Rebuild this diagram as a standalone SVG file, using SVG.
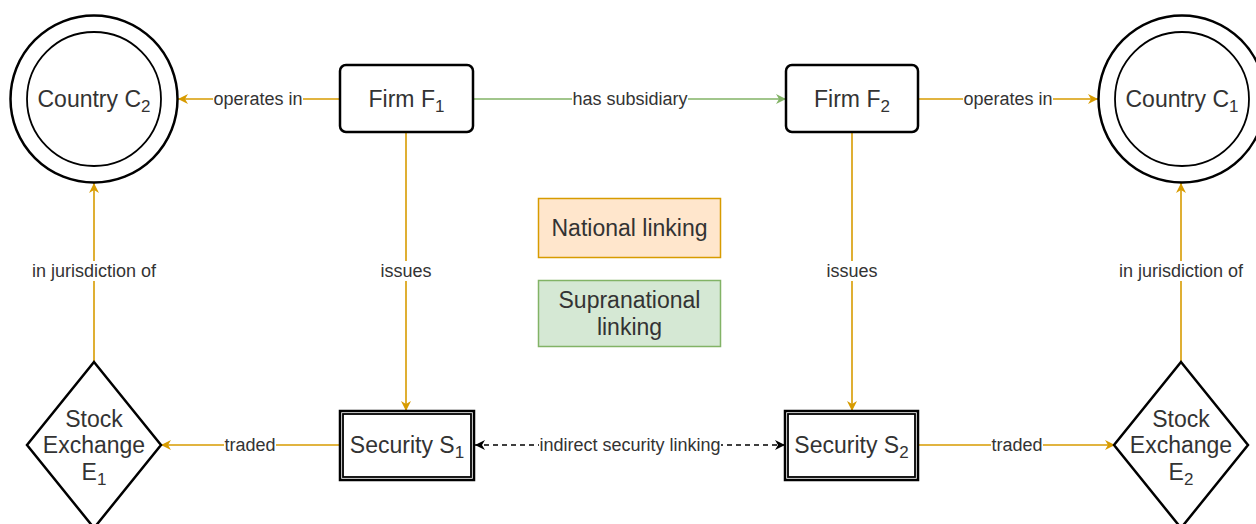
<svg xmlns="http://www.w3.org/2000/svg" width="1256" height="524" viewBox="0 0 1256 524">
  <defs>
    <style>
      .node { fill: #ffffff; stroke: #000000; stroke-width: 2.5; }
      .inner { fill: none; stroke: #000000; stroke-width: 1.8; }
      .ntext { font-family: "Liberation Sans", Arial, sans-serif; font-size: 23px; fill: #333333; text-anchor: middle; }
      .ltext { font-family: "Liberation Sans", Arial, sans-serif; font-size: 18px; fill: #333333; text-anchor: middle; }
      .sub { font-size: 17px; }
      .orange { fill: none; stroke: #d79b00; stroke-width: 1.6; }
      .green { fill: none; stroke: #82b366; stroke-width: 1.6; }
      .dash { fill: none; stroke: #000000; stroke-width: 1.6; stroke-dasharray: 5 4; }
      .lbg { fill: #ffffff; }
    </style>
    <marker id="arrO" viewBox="0 0 12 12" refX="11" refY="6" markerWidth="12" markerHeight="12" markerUnits="userSpaceOnUse" orient="auto-start-reverse">
      <path d="M1,1 L11,6 L1,11 L4,6 Z" fill="#d79b00"/>
    </marker>
    <marker id="arrG" viewBox="0 0 12 12" refX="11" refY="6" markerWidth="12" markerHeight="12" markerUnits="userSpaceOnUse" orient="auto-start-reverse">
      <path d="M1,1 L11,6 L1,11 L4,6 Z" fill="#82b366"/>
    </marker>
    <marker id="arrK" viewBox="0 0 12 12" refX="11" refY="6" markerWidth="12" markerHeight="12" markerUnits="userSpaceOnUse" orient="auto-start-reverse">
      <path d="M1,1 L11,6 L1,11 L4,6 Z" fill="#000000"/>
    </marker>
  </defs>

  <rect x="0" y="0" width="1256" height="524" fill="#ffffff"/>

  <!-- connectors -->
  <g id="connectors">
    <line class="orange" x1="340" y1="99" x2="178" y2="99" marker-end="url(#arrO)"/>
    <line class="green" x1="473" y1="99" x2="786" y2="99" marker-end="url(#arrG)"/>
    <line class="orange" x1="918" y1="99" x2="1098" y2="99" marker-end="url(#arrO)"/>
    <line class="orange" x1="406" y1="132" x2="406" y2="411" marker-end="url(#arrO)"/>
    <line class="orange" x1="852" y1="132" x2="852" y2="411" marker-end="url(#arrO)"/>
    <line class="orange" x1="94" y1="362" x2="94" y2="183" marker-end="url(#arrO)"/>
    <line class="orange" x1="1181" y1="362" x2="1181" y2="183" marker-end="url(#arrO)"/>
    <line class="orange" x1="340" y1="445" x2="161" y2="445" marker-end="url(#arrO)"/>
    <line class="orange" x1="918" y1="445" x2="1115" y2="445" marker-end="url(#arrO)"/>
    <line class="dash" x1="475" y1="445" x2="785" y2="445" marker-start="url(#arrK)" marker-end="url(#arrK)"/>

    <!-- edge labels -->
    <rect class="lbg" x="213" y="89" width="90" height="20"/>
    <text class="ltext" x="258" y="105">operates in</text>
    <rect class="lbg" x="572" y="89" width="116" height="20"/>
    <text class="ltext" x="630" y="105">has subsidiary</text>
    <rect class="lbg" x="963" y="89" width="90" height="20"/>
    <text class="ltext" x="1008" y="105">operates in</text>
    <rect class="lbg" x="380" y="261" width="52" height="20"/>
    <text class="ltext" x="406" y="277">issues</text>
    <rect class="lbg" x="826" y="261" width="52" height="20"/>
    <text class="ltext" x="852" y="277">issues</text>
    <rect class="lbg" x="31" y="261" width="126" height="20"/>
    <text class="ltext" x="94" y="277">in jurisdiction of</text>
    <rect class="lbg" x="1118" y="261" width="126" height="20"/>
    <text class="ltext" x="1181" y="277">in jurisdiction of</text>
    <rect class="lbg" x="224" y="435" width="52" height="20"/>
    <text class="ltext" x="250" y="451">traded</text>
    <rect class="lbg" x="991" y="435" width="52" height="20"/>
    <text class="ltext" x="1017" y="451">traded</text>
    <rect class="lbg" x="539" y="435" width="182" height="20"/>
    <text class="ltext" x="630" y="451">indirect security linking</text>
  </g>

  <!-- countries -->
  <g id="country-c2">
    <circle class="node" cx="94" cy="99" r="83.5"/>
    <circle class="inner" cx="94" cy="99" r="67" stroke-width="2.5"/>
    <text class="ntext" x="94" y="107">Country C<tspan class="sub" dy="5">2</tspan></text>
  </g>
  <g id="country-c1">
    <circle class="node" cx="1182" cy="99" r="83.5"/>
    <circle class="inner" cx="1182" cy="99" r="67" stroke-width="2.5"/>
    <text class="ntext" x="1182" y="107">Country C<tspan class="sub" dy="5">1</tspan></text>
  </g>

  <!-- firms -->
  <g id="firm-f1">
    <rect class="node" x="340" y="65" width="133" height="67" rx="6"/>
    <text class="ntext" x="406.5" y="107">Firm F<tspan class="sub" dy="5">1</tspan></text>
  </g>
  <g id="firm-f2">
    <rect class="node" x="786" y="65" width="132" height="67" rx="6"/>
    <text class="ntext" x="852" y="107">Firm F<tspan class="sub" dy="5">2</tspan></text>
  </g>

  <!-- securities: double-bordered boxes -->
  <g id="security-s1">
    <rect class="node" x="340" y="411" width="134" height="69" stroke-width="2"/>
    <rect class="inner" x="343" y="414" width="128" height="63" stroke-width="1.6"/>
    <text class="ntext" x="407" y="453">Security S<tspan class="sub" dy="5">1</tspan></text>
  </g>
  <g id="security-s2">
    <rect class="node" x="785" y="411" width="133" height="69" stroke-width="2"/>
    <rect class="inner" x="788" y="414" width="127" height="63" stroke-width="1.6"/>
    <text class="ntext" x="851.5" y="453">Security S<tspan class="sub" dy="5">2</tspan></text>
  </g>

  <!-- stock exchanges -->
  <g id="exchange-e1">
    <polygon class="node" points="94,362 161,445 94,528 27,445"/>
    <text class="ntext" x="94" y="427">Stock</text>
    <text class="ntext" x="94" y="453">Exchange</text>
    <text class="ntext" x="94" y="480">E<tspan class="sub" dy="5">1</tspan></text>
  </g>
  <g id="exchange-e2">
    <polygon class="node" points="1181,362 1248,445 1181,528 1114,445"/>
    <text class="ntext" x="1181" y="427">Stock</text>
    <text class="ntext" x="1181" y="453">Exchange</text>
    <text class="ntext" x="1181" y="480">E<tspan class="sub" dy="5">2</tspan></text>
  </g>

  <!-- legend -->
  <g id="legend-national">
    <rect x="538.5" y="198.5" width="182" height="59" fill="#ffe6cc" stroke="#d79b00" stroke-width="1.5"/>
    <text class="ntext" x="629.5" y="236">National linking</text>
  </g>
  <g id="legend-supranational">
    <rect x="538.5" y="280.5" width="182" height="66" fill="#d5e8d4" stroke="#82b366" stroke-width="1.5"/>
    <text class="ntext" x="629.5" y="308">Supranational</text>
    <text class="ntext" x="629.5" y="335">linking</text>
  </g>
</svg>
